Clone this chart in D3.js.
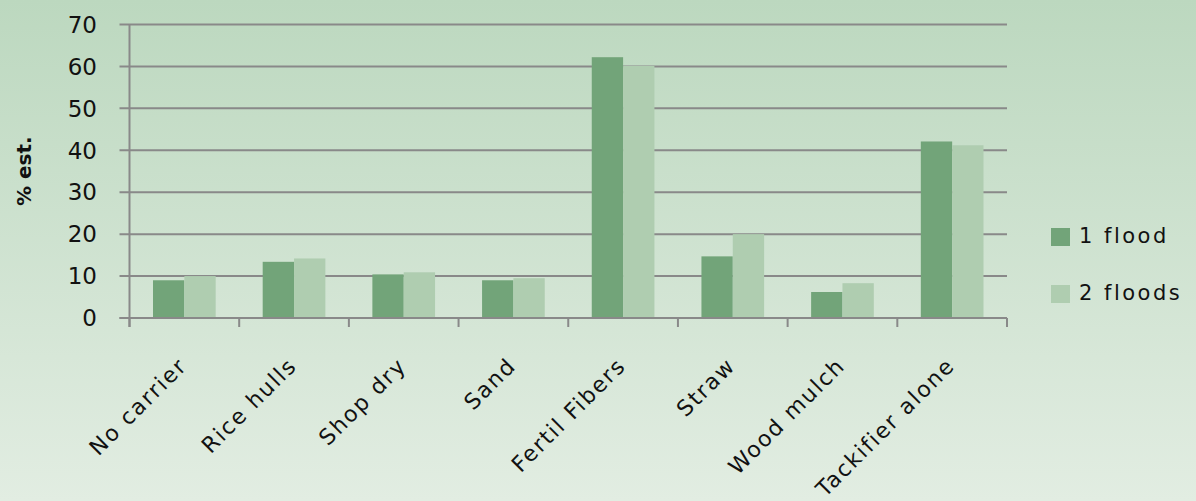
<html>
<head>
<script src="https://d3js.org/d3.v7.min.js"></script>
<style>
body { margin: 0; font-family: 'DejaVu Sans', sans-serif; }
svg { display: block; }
</style>
</head>
<body>
<svg></svg>
<script>
// Data
var categories = ["No carrier", "Rice hulls", "Shop dry", "Sand", "Fertil Fibers", "Straw", "Wood mulch", "Tackifier alone"];
var series = ["1 flood", "2 floods"];
var oneFlood = [9, 13.4, 10.4, 9, 62.2, 14.7, 6.2, 42.1];
var twoFloods = [10, 14.2, 10.9, 9.5, 60.1, 20, 8.3, 41.2];
var yTicks = [0, 10, 20, 30, 40, 50, 60, 70];
var colors = ["#72a479", "#afcdb0"];

var width = 1196, height = 501;
var plotLeft = 129.5, plotRight = 1007, plotTop = 24.5, plotBottom = 318;

var svg = d3.select("svg").attr("width", width).attr("height", height);

// background gradient
var grad = svg.append("defs").append("linearGradient")
  .attr("id", "bg").attr("x1", 0).attr("y1", 0).attr("x2", 0).attr("y2", 1);
grad.append("stop").attr("offset", "0%").attr("stop-color", "#bcd8bf");
grad.append("stop").attr("offset", "100%").attr("stop-color", "#e2ede2");
svg.append("rect").attr("width", width).attr("height", height).attr("fill", "url(#bg)");

var x0 = d3.scaleBand().domain(categories).range([plotLeft, plotRight]);
var x1 = d3.scaleBand().domain(series).range([0, x0.bandwidth()]).paddingInner(0).paddingOuter(0.75);
var y = d3.scaleLinear().domain([0, 70]).range([plotBottom, plotTop]);

// gridlines
svg.append("g").selectAll("line").data(yTicks).join("line")
  .attr("x1", plotLeft - 10).attr("x2", plotRight)
  .attr("y1", function (d) { return y(d); }).attr("y2", function (d) { return y(d); })
  .attr("stroke", "#898989").attr("stroke-width", 2);

// y tick labels
svg.append("g").selectAll("text").data(yTicks).join("text")
  .attr("x", 97).attr("y", function (d) { return y(d); })
  .attr("dy", "0.36em").attr("text-anchor", "end")
  .style("font-size", "23px").attr("fill", "#111")
  .text(function (d) { return d; });

// bars
var rows = categories.map(function (c, i) { return [oneFlood[i], twoFloods[i]]; });
var groups = svg.append("g").selectAll("g").data(rows).join("g")
  .attr("transform", function (d, i) { return "translate(" + x0(categories[i]) + ",0)"; });
groups.selectAll("rect").data(function (d) { return d; }).join("rect")
  .attr("x", function (d, j) { return x1(series[j]); })
  .attr("width", x1.bandwidth())
  .attr("y", function (d) { return y(d); })
  .attr("height", function (d) { return y(0) - y(d); })
  .attr("fill", function (d, j) { return colors[j]; });

// axes lines
svg.append("line").attr("x1", plotLeft - 10).attr("x2", plotRight).attr("y1", plotBottom).attr("y2", plotBottom)
  .attr("stroke", "#898989").attr("stroke-width", 2);
svg.append("line").attr("x1", plotLeft).attr("x2", plotLeft).attr("y1", plotTop).attr("y2", plotBottom + 9)
  .attr("stroke", "#898989").attr("stroke-width", 2);
var tickXs = categories.map(function (c) { return x0(c); }).concat([plotRight]);
svg.append("g").selectAll("line").data(tickXs).join("line")
  .attr("x1", function (d) { return d; }).attr("x2", function (d) { return d; })
  .attr("y1", plotBottom).attr("y2", plotBottom + 9)
  .attr("stroke", "#898989").attr("stroke-width", 2);

// category labels
svg.append("g").selectAll("text").data(categories).join("text")
  .attr("transform", function (d) {
    return "translate(" + (x0(d) + x0.bandwidth() / 2 + 4) + "," + 367 + ") rotate(-45)";
  })
  .attr("text-anchor", "end")
  .style("font-size", "22px").style("letter-spacing", "1.8px").attr("fill", "#111")
  .text(function (d) { return d; });

// y title
svg.append("text")
  .attr("transform", "translate(31," + ((plotTop + plotBottom) / 2) + ") rotate(-90)")
  .attr("text-anchor", "middle")
  .style("font-size", "20px").style("font-weight", "bold").attr("fill", "#111")
  .text("% est.");

// legend
var legend = svg.append("g").selectAll("g").data(series).join("g")
  .attr("transform", function (d, i) { return "translate(1051," + (228 + i * 57) + ")"; });
legend.append("rect").attr("width", 19).attr("height", 18)
  .attr("fill", function (d, i) { return colors[i]; });
legend.append("text").attr("x", 28).attr("y", 15)
  .style("font-size", "21px").style("letter-spacing", "2.5px").attr("fill", "#111")
  .text(function (d) { return d; });
</script>
</body>
</html>
